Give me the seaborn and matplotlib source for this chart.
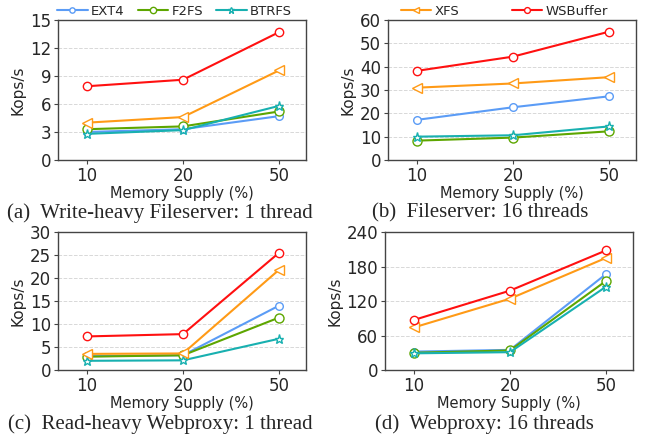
import numpy as np
import pandas as pd
import matplotlib
matplotlib.use("Agg")
import matplotlib.pyplot as plt
import seaborn as sns

# ==================== data ====================
supply = ["10", "20", "50"]
systems = ["EXT4", "F2FS", "BTRFS", "XFS", "WSBuffer"]

# (a) Write-heavy Fileserver: 1 thread
a_ext4 = [3.0, 3.3, 4.7]
a_f2fs = [3.3, 3.6, 5.2]
a_btrfs = [2.8, 3.2, 5.8]
a_xfs = [4.0, 4.6, 9.6]
a_wsb = [7.9, 8.6, 13.7]

# (b) Fileserver: 16 threads
b_ext4 = [17.2, 22.6, 27.3]
b_f2fs = [8.3, 9.6, 12.3]
b_btrfs = [10.0, 10.6, 14.4]
b_xfs = [31.0, 32.8, 35.5]
b_wsb = [38.2, 44.3, 55.0]

# (c) Read-heavy Webproxy: 1 thread
c_ext4 = [3.0, 3.2, 14.0]
c_f2fs = [2.9, 3.2, 11.4]
c_btrfs = [2.0, 2.1, 6.8]
c_xfs = [3.5, 3.6, 21.8]
c_wsb = [7.3, 7.8, 25.5]

# (d) Webproxy: 16 threads
d_ext4 = [32, 35, 167]
d_f2fs = [30, 34, 155]
d_btrfs = [29, 31, 145]
d_xfs = [74, 124, 195]
d_wsb = [87, 138, 208]

captions = ["(a)  Write-heavy Fileserver: 1 thread",
            "(b)  Fileserver: 16 threads",
            "(c)  Read-heavy Webproxy: 1 thread",
            "(d)  Webproxy: 16 threads"]
ylims = [(0, 15), (0, 60), (0, 30), (0, 240)]
yticks = [np.arange(0, 16, 3), np.arange(0, 61, 10),
          np.arange(0, 31, 5), np.arange(0, 241, 60)]

panels = [
    [a_ext4, a_f2fs, a_btrfs, a_xfs, a_wsb],
    [b_ext4, b_f2fs, b_btrfs, b_xfs, b_wsb],
    [c_ext4, c_f2fs, c_btrfs, c_xfs, c_wsb],
    [d_ext4, d_f2fs, d_btrfs, d_xfs, d_wsb],
]

colors = {"EXT4": "#5b9cf6", "F2FS": "#5da600", "BTRFS": "#18b0b0",
          "XFS": "#ff9a16", "WSBuffer": "#ff1010"}
markers = {"EXT4": "o", "F2FS": "o", "BTRFS": "*", "XFS": "<", "WSBuffer": "o"}
msizes = {"EXT4": 5.5, "F2FS": 6.5, "BTRFS": 6.5, "XFS": 6.5, "WSBuffer": 6}

# ==================== plot ====================
sns.set_style("ticks")
plt.rcParams['font.family'] = ['DejaVu Sans']

fig = plt.figure(figsize=(6.46, 4.40), dpi=100)
boxes = [(58, 20, 306, 160), (388, 20, 636, 160),
         (58, 232, 306, 370), (385, 232, 633, 370)]
W, H = 646, 440
axes = []
for (x0, y0, x1, y1) in boxes:
    axes.append(fig.add_axes([x0 / W, 1 - y1 / H, (x1 - x0) / W, (y1 - y0) / H]))

for i, ax in enumerate(axes):
    for name, vals in zip(systems, panels[i]):
        df = pd.DataFrame({"x": supply, "y": vals})
        sns.lineplot(data=df, x="x", y="y", ax=ax, color=colors[name],
                     marker=markers[name], markersize=msizes[name],
                     markerfacecolor="white", markeredgecolor=colors[name],
                     markeredgewidth=1.0, linewidth=1.5, label=name,
                     legend=False)
    ax.set_xlim(-0.3, 2.28)
    ax.set_ylim(*ylims[i])
    ax.set_yticks(yticks[i])
    ax.tick_params(labelsize=12, length=3, color="#444444", pad=2)
    ax.set_xlabel("Memory Supply (%)", fontsize=10.5, labelpad=1)
    ax.set_ylabel("Kops/s", fontsize=11, labelpad=3)
    ax.grid(axis="y", linestyle="--", color="#d8d8d8", linewidth=0.7)
    ax.set_axisbelow(True)
    for s in ax.spines.values():
        s.set_color("#444444")
        s.set_linewidth(1.0)
    cx = [160, 480, 160, 484][i] / W
    cy = 1 - (213 if i < 2 else 424) / H
    fig.text(cx, cy, captions[i], family="Liberation Serif", fontsize=15,
             ha="center", va="center")

h, l = axes[0].get_legend_handles_labels()
axes[0].legend(h[:3], l[:3], loc="lower center", bbox_to_anchor=(0.47, 0.98),
               ncol=3, frameon=False, fontsize=9.5, handlelength=2.3,
               columnspacing=1.0, handletextpad=0.25, markerscale=0.7,
               borderaxespad=0)
axes[1].legend(h[3:], l[3:], loc="lower center", bbox_to_anchor=(0.47, 0.98),
               ncol=2, frameon=False, fontsize=9.5, handlelength=2.3,
               columnspacing=4.0, handletextpad=0.25, markerscale=0.7,
               borderaxespad=0)

fig.savefig("out.png", dpi=100)
